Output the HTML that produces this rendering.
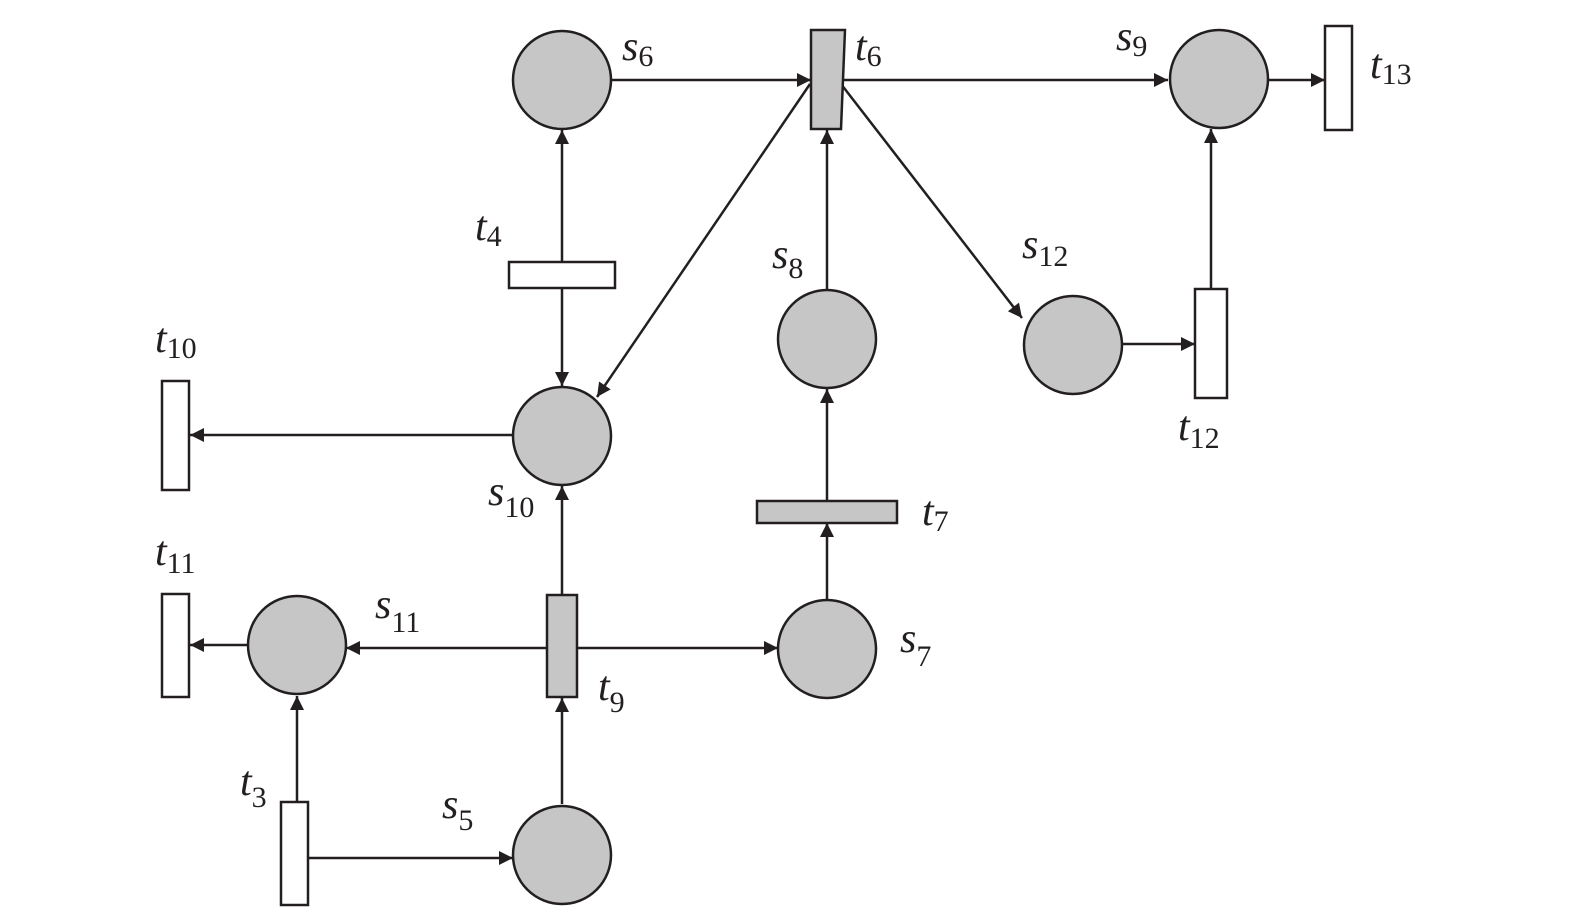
<!DOCTYPE html>
<html><head><meta charset="utf-8"><style>
html,body{margin:0;padding:0;background:#fff;}
svg{display:block;}
text{font-family:"Liberation Serif",serif;fill:#231f20;}
.m{font-style:italic;font-size:42px;}
.s{font-size:30px;font-style:normal;}
</style></head><body>
<svg width="1575" height="913" viewBox="0 0 1575 913" xmlns="http://www.w3.org/2000/svg">
<defs>
<marker id="a" viewBox="0 0 10 10" refX="10" refY="5" markerWidth="28" markerHeight="14" markerUnits="userSpaceOnUse" orient="auto">
<path d="M0,0 L10,5 L0,10 z" fill="#231f20"/>
</marker>
</defs>
<g stroke="#231f20" stroke-width="2.5" fill="none" marker-end="url(#a)">
<line x1="611" y1="80" x2="811" y2="80"/>
<line x1="843" y1="80" x2="1168" y2="80"/>
<line x1="1268" y1="80" x2="1325" y2="80"/>
<line x1="562" y1="262" x2="562" y2="130"/>
<line x1="562" y1="288" x2="562" y2="386"/>
<line x1="810" y1="84" x2="597" y2="397"/>
<line x1="841" y1="84" x2="1022" y2="318"/>
<line x1="827" y1="290" x2="827" y2="130"/>
<line x1="1122" y1="344" x2="1195" y2="344"/>
<line x1="1211" y1="289" x2="1211" y2="129"/>
<line x1="512" y1="435" x2="190" y2="435"/>
<line x1="827" y1="501" x2="827" y2="389"/>
<line x1="827" y1="600" x2="827" y2="523"/>
<line x1="562" y1="594" x2="562" y2="486"/>
<line x1="548" y1="648" x2="346" y2="648"/>
<line x1="577" y1="648" x2="778" y2="648"/>
<line x1="247" y1="645" x2="190" y2="645"/>
<line x1="297" y1="802" x2="297" y2="696"/>
<line x1="562" y1="804" x2="562" y2="698"/>
<line x1="307" y1="858" x2="513" y2="858"/>
</g>
<g fill="#c6c6c6" stroke="#231f20" stroke-width="2.5">
<circle cx="562" cy="80" r="49"/>
<circle cx="1219" cy="79" r="49"/>
<circle cx="827" cy="339" r="49"/>
<circle cx="1073" cy="345" r="49"/>
<circle cx="562" cy="436" r="49"/>
<circle cx="297" cy="645" r="49"/>
<circle cx="827" cy="649" r="49"/>
<circle cx="562" cy="855" r="49"/>
<path d="M811,30 L845,30 L841,129 L811,129 z"/>
<rect x="757" y="501" width="140" height="22"/>
<rect x="547" y="595" width="30" height="102"/>
</g>
<g fill="#fff" stroke="#231f20" stroke-width="2.5">
<rect x="1325" y="26" width="27" height="104"/>
<rect x="509" y="262" width="106" height="26"/>
<rect x="1195" y="289" width="32" height="109"/>
<rect x="162" y="381" width="27" height="109"/>
<rect x="162" y="594" width="27" height="103"/>
<rect x="281" y="802" width="27" height="103"/>
</g>
<text class="m" x="622" y="60">s<tspan class="s" dy="6">6</tspan></text>
<text class="m" x="855" y="60">t<tspan class="s" dy="6">6</tspan></text>
<text class="m" x="1116" y="50">s<tspan class="s" dy="6">9</tspan></text>
<text class="m" x="1370" y="78">t<tspan class="s" dy="6">13</tspan></text>
<text class="m" x="475" y="240">t<tspan class="s" dy="6">4</tspan></text>
<text class="m" x="772" y="268">s<tspan class="s" dy="10">8</tspan></text>
<text class="m" x="1022" y="258">s<tspan class="s" dy="8">12</tspan></text>
<text class="m" x="155" y="352">t<tspan class="s" dy="6">10</tspan></text>
<text class="m" x="1178" y="440">t<tspan class="s" dy="8">12</tspan></text>
<text class="m" x="488" y="505">s<tspan class="s" dy="12">10</tspan></text>
<text class="m" x="922" y="525">t<tspan class="s" dy="6">7</tspan></text>
<text class="m" x="155" y="565">t<tspan class="s" dy="8">11</tspan></text>
<text class="m" x="375" y="618">s<tspan class="s" dy="14">11</tspan></text>
<text class="m" x="900" y="652">s<tspan class="s" dy="14">7</tspan></text>
<text class="m" x="598" y="700">t<tspan class="s" dy="12">9</tspan></text>
<text class="m" x="240" y="795">t<tspan class="s" dy="12">3</tspan></text>
<text class="m" x="442" y="818">s<tspan class="s" dy="12">5</tspan></text>
</svg>
</body></html>
